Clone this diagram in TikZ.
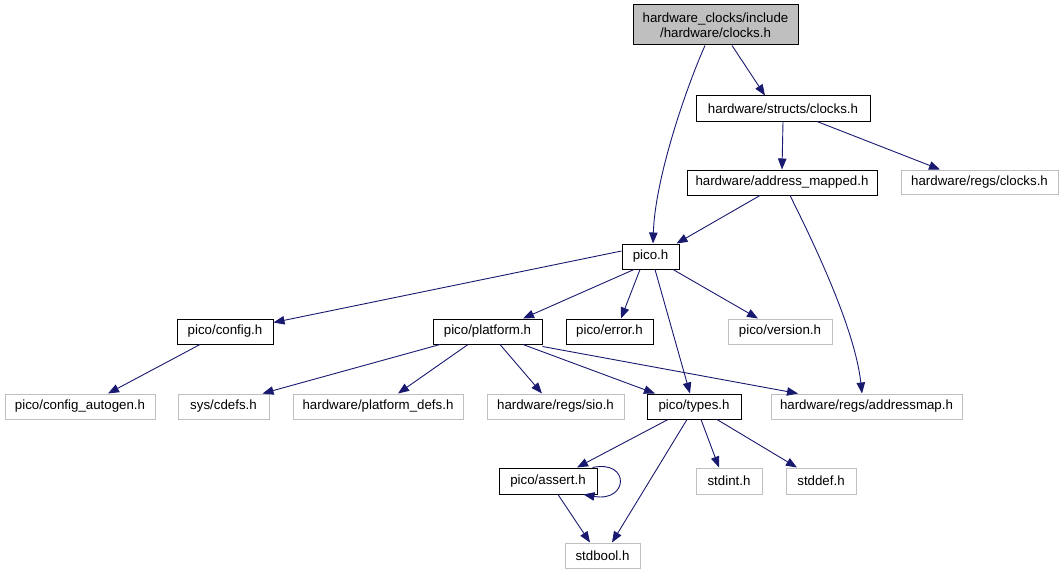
\documentclass[tikz,border=0pt]{standalone}
\usepackage{fontspec}
\setmainfont{Liberation Sans}
\usetikzlibrary{arrows.meta}
\definecolor{edgeblue}{HTML}{191970}
\definecolor{lgrey}{HTML}{BFBFBF}
\tikzset{
  box/.style={draw=black, line width=1pt, rectangle, inner sep=0pt, align=center, font=\fontsize{13.3}{15.5}\selectfont},
  gbox/.style={box, draw=lgrey},
  topbox/.style={box, fill=lgrey},
  dep/.style={draw=edgeblue, line width=0.9pt, -{Triangle[length=11pt,width=8.5pt]}, shorten >=0pt},
}
\begin{document}
\begin{tikzpicture}[x=1pt,y=-1pt]
\useasboundingbox (0,0) rectangle (1064,575);
% nodes
\node[topbox, minimum width=165pt, minimum height=40pt] (top) at (715.5,25) {hardware\_clocks/include\\/hardware/clocks.h};
\node[box, minimum width=174pt, minimum height=25pt] (structs) at (783,108.5) {hardware/structs/clocks.h};
\node[gbox, minimum width=157pt, minimum height=24pt] (regsclocks) at (979.5,182) {hardware/regs/clocks.h};
\node[box, minimum width=190pt, minimum height=25pt] (addrmapped) at (782,182.5) {hardware/address\_mapped.h};
\node[box, minimum width=57pt, minimum height=25pt] (pico) at (650.5,256.5) {pico.h};
\node[box, minimum width=96pt, minimum height=25pt] (config) at (225,331.5) {pico/config.h};
\node[box, minimum width=109pt, minimum height=25pt] (platform) at (487.5,331.5) {pico/platform.h};
\node[box, minimum width=87pt, minimum height=25pt] (error) at (609.5,331.5) {pico/error.h};
\node[gbox, minimum width=104pt, minimum height=25pt] (version) at (780,331.5) {pico/version.h};
\node[gbox, minimum width=150pt, minimum height=25pt] (autogen) at (80,406.5) {pico/config\_autogen.h};
\node[gbox, minimum width=91pt, minimum height=25pt] (cdefs) at (223.5,406.5) {sys/cdefs.h};
\node[gbox, minimum width=170pt, minimum height=25pt] (platdefs) at (378,406.5) {hardware/platform\_defs.h};
\node[gbox, minimum width=137pt, minimum height=25pt] (sio) at (555.5,406.5) {hardware/regs/sio.h};
\node[box, minimum width=94pt, minimum height=25pt] (types) at (694,406.5) {pico/types.h};
\node[gbox, minimum width=191pt, minimum height=25pt] (addressmap) at (866.5,406.5) {hardware/regs/addressmap.h};
\node[box, minimum width=98pt, minimum height=26pt] (assert) at (548,481) {pico/assert.h};
\node[gbox, minimum width=66pt, minimum height=26pt] (stdint) at (729,481) {stdint.h};
\node[gbox, minimum width=70pt, minimum height=26pt] (stddef) at (821,481) {stddef.h};
\node[gbox, minimum width=75pt, minimum height=25pt] (stdbool) at (602.5,555.5) {stdbool.h};
% edges
\draw[dep] ([xshift=16.5pt]top.south) -- ([xshift=-18pt]structs.north);
\draw[dep] ([xshift=-10.5pt]top.south) .. controls +(-20,45) and +(2,-64) .. ([xshift=2.5pt]pico.north);
\draw[dep] (structs.south) -- (addrmapped.north);
\draw[dep] ([xshift=34pt]structs.south) -- ([xshift=-39.5pt]regsclocks.north);
\draw[dep] ([xshift=-22pt]addrmapped.south) -- ([xshift=-3pt]pico.north east);
\draw[dep] ([xshift=8pt]addrmapped.south) .. controls +(25,50) and +(-7,-64) .. ([xshift=-4.5pt]addressmap.north);
\draw[dep] ([yshift=5.5pt]pico.west) -- ([yshift=-4pt]config.north east);
\draw[dep] ([xshift=-16.5pt]pico.south) -- ([xshift=35.5pt]platform.north);
\draw[dep] ([xshift=-10.5pt]pico.south) -- ([xshift=11.5pt]error.north);
\draw[dep] ([xshift=4.5pt]pico.south) -- ([xshift=-4pt]types.north);
\draw[dep] ([xshift=22.5pt]pico.south) -- ([xshift=-22pt]version.north);
\draw[dep] ([xshift=-25pt]config.south) -- ([xshift=28pt]autogen.north);
\draw[dep] ([xshift=-47.5pt]platform.south) -- ([xshift=-7pt]cdefs.north east);
\draw[dep] ([xshift=-19.5pt]platform.south) -- ([xshift=20pt]platdefs.north);
\draw[dep] ([xshift=12.5pt]platform.south) -- ([xshift=-13.5pt]sio.north);
\draw[dep] ([xshift=35.5pt]platform.south) -- ([xshift=-39pt]types.north);
\draw[dep] ([yshift=-2pt]platform.south east) -- ([xshift=-68.5pt]addressmap.north);
\draw[dep] ([xshift=-26pt]types.south) -- ([xshift=29pt]assert.north);
\draw[dep] ([xshift=-7pt]types.south) -- ([xshift=9.5pt]stdbool.north);
\draw[dep] ([xshift=7pt]types.south) -- ([xshift=-10pt]stdint.north);
\draw[dep] ([xshift=23pt]types.south) -- ([xshift=-24pt]stddef.north);
\draw[dep] ([xshift=10pt]assert.south) -- ([xshift=-12.5pt]stdbool.north);
\draw[dep] ([xshift=-5pt]assert.north east) .. controls +(38,-8) and +(45,8) .. ([xshift=-14pt]assert.south east);
\end{tikzpicture}
\end{document}
